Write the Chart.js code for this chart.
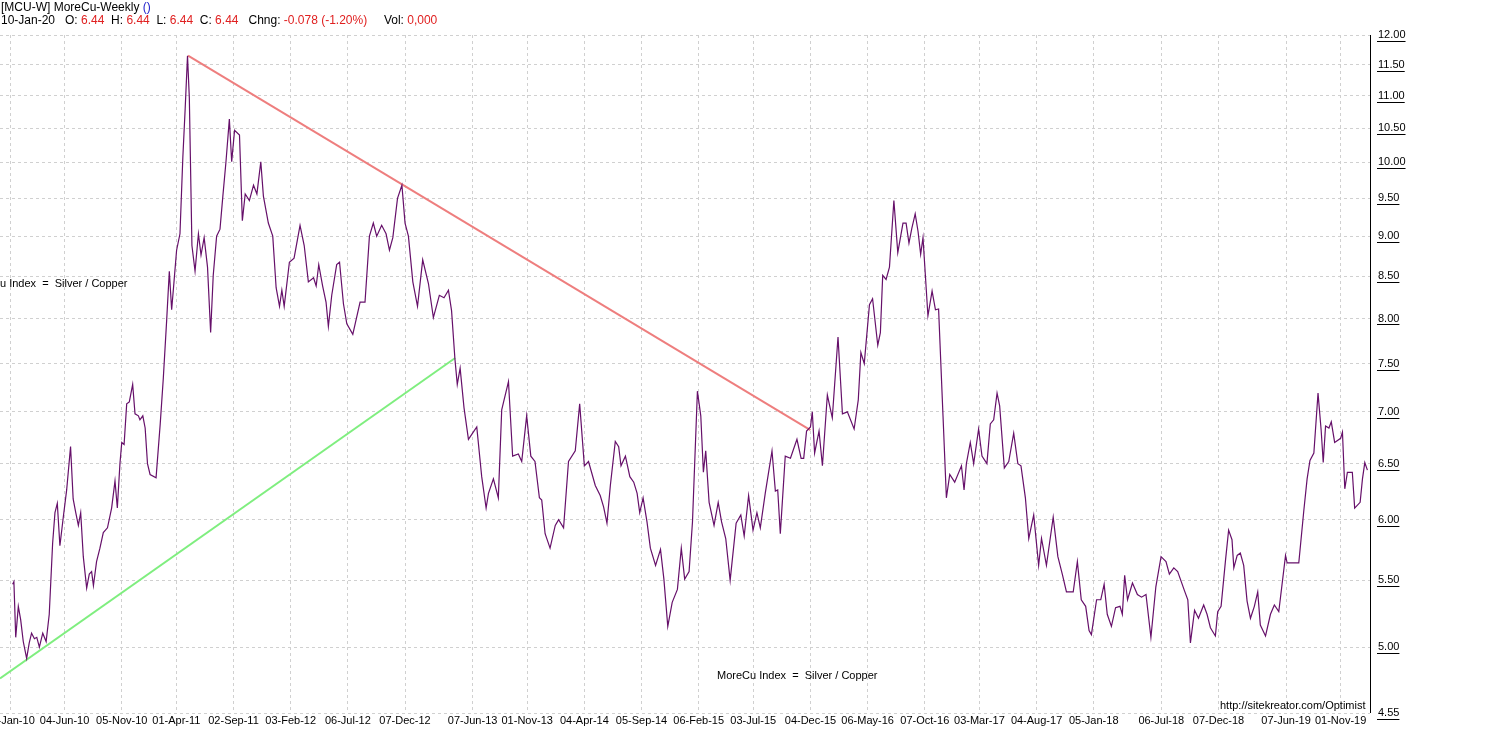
<!DOCTYPE html>
<html><head><meta charset="utf-8">
<script src="https://cdn.jsdelivr.net/npm/chart.js@4"></script>
<style>html,body{margin:0;padding:0;background:#fff}#w{width:1496px;height:732px}</style>
</head><body><div id="w"><canvas id="c"></canvas></div>
<script>
// week index (0 = 08-Jan-10) of traced points
const weeks=[1,1.5,2.2,3.2,4.1,5.1,6.4,7.4,8.3,9.4,10.3,11.3,12.6,13.9,15.1,16.4,17.3,18.2,19.2,20.5,21.8,23.3,24.3,25.3,26.3,27.2,28.2,29.5,30.5,31.4,32.1,33.3,34.6,35.9,37.5,39.1,40.4,41.3,42.3,43,43.9,44.9,45.9,47.2,48.1,49.4,50,51.1,52,52.9,53.9,56.2,57.8,59,60.3,61.3,62.2,63.1,64.1,65.4,66.5,67.4,68.3,69,70,71.2,72.5,73.5,74.7,76,77.2,78.2,79.5,80.8,81.9,83.1,84.4,85.3,86.4,88.3,89.4,90.5,92.1,93.7,95,96.5,97.5,99.4,101.1,102.4,103.7,104.6,105.5,107.5,109.3,111.6,113.2,114.8,116.8,117.8,118.8,120.3,121.6,122.5,123.8,125.7,126.8,128.3,129.6,131.9,134.7,136.6,138.3,139.8,141.1,143,144.7,146,147.3,149.1,150.8,152,153.3,155,156.8,158.8,161,162.9,165.2,167,168.7,169.9,171.2,172.1,173.2,174.7,176.4,178,179.6,181.5,183.2,184.1,186,187.9,189.2,191.8,193.4,195.6,196.9,198.8,200.4,202,203.7,204.6,205.9,207.8,209.8,211.1,213,214.9,217.5,219.2,221,222.6,225.2,227.1,228.4,229.7,231,232.9,234.2,235.1,236.8,238.5,240,241.3,242.3,243.6,245.1,246.4,248.4,250.3,251.6,253.1,254.8,256.8,258.3,259.6,261.3,262.6,264.5,265.8,266.8,267.7,269,270.9,272.5,273.8,275.4,277.1,279.4,281.2,282.5,284.2,285.9,287.4,288.7,290.6,293.2,294.5,295.4,296.4,298.3,300.3,302.8,304.4,305.4,306.5,308,308.7,309.6,311.3,312.6,314.5,316.4,318.6,320.3,322.2,324.8,326.4,327.4,328.7,330.7,331.9,333.9,334.9,335.8,337.1,338.4,340.1,341.6,343.6,344.8,345.9,347,348.3,349.4,350.4,351.3,353.2,354.8,356.1,357.3,359,360.3,361.6,363.5,366.1,367.1,368,369.5,370.8,372.7,374,375.9,377.2,378.5,379.8,380.8,382.6,384.3,386.2,387.8,389,390.7,392,393.9,395.8,396.9,398.8,401.4,403.2,404.9,406.5,409.1,410.7,412.2,413.9,415.2,416.1,418.1,419.7,421,422.2,423.8,425.4,427.1,428,428.9,430,431.9,433.8,435.4,437.1,439,440.9,442.9,444.8,446.1,447.8,449.3,451.9,453.2,454.2,455.8,457.3,459.3,460.6,461.9,463.8,464.7,466,467.7,468.9,470.2,470.9,472.2,473.4,474.7,476,477.3,478.8,480.1,481.1,483.1,485,486.5,488.2,490.8,491.4,493.3,495.9,497.8,499.1,500.2,501.7,503.3,504.5,505.3,506.2,507.5,508.4,509.7,512,512.7,513.6,514.6,516.5,517.4,519.5,520.4,521.3,522.3];
const moreCu=[5.47,5.49,5.07,5.3,5.2,5.04,4.92,5.03,5.1,5.06,5.07,5.0,5.1,5.04,5.24,5.8,6.06,6.14,5.78,6.02,6.26,6.66,6.18,6.06,5.95,6.06,5.69,5.44,5.55,5.57,5.46,5.65,5.76,5.89,5.93,6.1,6.34,6.1,6.5,6.7,6.68,7.08,7.1,7.28,6.98,6.96,6.92,6.96,6.84,6.5,6.4,6.37,6.88,7.35,7.99,8.56,8.1,8.43,8.82,9.03,10.07,10.8,11.65,10.97,8.88,8.56,9.03,8.76,8.98,8.61,7.84,8.51,9.0,9.09,9.53,10.01,10.64,10.01,10.47,10.4,9.2,9.56,9.47,9.68,9.56,10.01,9.53,9.17,9.0,8.36,8.14,8.33,8.14,8.67,8.72,9.14,8.88,8.43,8.48,8.38,8.64,8.38,8.19,7.91,8.27,8.64,8.67,8.17,7.94,7.82,8.19,8.19,9.0,9.17,9.0,9.14,9.03,8.82,8.98,9.5,9.68,9.17,9.0,8.43,8.14,8.7,8.41,8.01,8.27,8.24,8.33,8.09,7.55,7.28,7.45,7.04,6.73,6.79,6.85,6.38,6.1,6.23,6.36,6.19,7.02,7.31,6.57,6.59,6.52,6.96,6.57,6.52,6.19,6.17,5.88,5.76,5.95,6.0,5.93,6.52,6.62,7.08,6.48,6.52,6.3,6.21,6.11,5.97,6.3,6.71,6.66,6.48,6.57,6.38,6.33,6.23,6.06,6.19,5.98,5.76,5.62,5.75,5.51,5.15,5.33,5.43,5.76,5.51,5.57,5.98,7.21,6.96,6.42,6.62,6.15,5.95,6.15,5.98,5.84,5.5,5.97,6.04,5.86,6.21,5.91,6.06,5.93,6.23,6.62,6.25,6.26,5.88,6.57,6.55,6.73,6.55,6.55,6.81,6.85,7.0,6.6,6.81,6.48,7.17,6.94,7.79,6.98,7.0,6.83,7.12,7.62,7.5,8.16,8.23,7.7,7.84,8.51,8.46,8.61,9.47,8.79,9.17,9.17,8.91,9.1,9.29,9.06,8.77,8.98,8.03,8.32,8.1,8.11,6.96,6.19,6.4,6.33,6.48,6.26,6.5,6.7,6.5,6.83,6.57,6.5,6.88,6.92,7.19,7.06,6.46,6.52,6.79,6.5,6.48,6.19,5.84,6.04,5.62,5.84,5.62,6.02,5.69,5.55,5.41,5.41,5.65,5.35,5.3,5.12,5.09,5.35,5.35,5.47,5.24,5.15,5.29,5.3,5.24,5.54,5.35,5.48,5.39,5.37,5.39,5.07,5.45,5.69,5.65,5.55,5.6,5.57,5.42,5.35,5.03,5.27,5.21,5.31,5.24,5.14,5.08,5.26,5.3,5.66,5.91,5.83,5.6,5.7,5.72,5.62,5.34,5.21,5.3,5.41,5.16,5.08,5.24,5.31,5.26,5.7,5.64,5.64,5.64,6.07,6.36,6.53,6.6,7.19,6.82,6.51,6.86,6.84,6.9,6.7,6.74,6.8,6.27,6.42,6.42,6.1,6.15,6.36,6.51,6.44];
const redTrendWeeks=[68.5,308],redTrendVals=[11.65,6.82];
const greenTrendWeeks=[-3.85,171.3],greenTrendVals=[4.78,7.56];
const xTickWeeks=[0,21,43,64,86,108,130,152,178,199,221,243,265,286,308,330,352,373,395,417,443,465,491,512];
const xTickLabels=['08-Jan-10','04-Jun-10','05-Nov-10','01-Apr-11','02-Sep-11','03-Feb-12','06-Jul-12','07-Dec-12','07-Jun-13','01-Nov-13','04-Apr-14','05-Sep-14','06-Feb-15','03-Jul-15','04-Dec-15','06-May-16','07-Oct-16','03-Mar-17','04-Aug-17','05-Jan-18','06-Jul-18','07-Dec-18','07-Jun-19','01-Nov-19'];
const yTicks=[4.55,5,5.5,6,6.5,7,7.5,8,8.5,9,9.5,10,10.5,11,11.5,12];

const pts=(xs,ys)=>xs.map((x,i)=>({x,y:ys[i]}));
const F='"Liberation Sans", Arial, sans-serif';
const deco={id:'deco',afterDraw(ch){
  const c=ch.ctx,xs=ch.scales.x,ys=ch.scales.y,a=ch.chartArea;
  c.save();
  c.strokeStyle='#000';c.lineWidth=1;c.beginPath();c.moveTo(Math.round(a.right)+0.5,a.top);c.lineTo(Math.round(a.right)+0.5,a.bottom);c.stroke();
  c.fillStyle='#000';c.font='11px '+F;c.textBaseline='middle';c.textAlign='center';
  xTickWeeks.forEach((w,i)=>c.fillText(xTickLabels[i],xs.getPixelForValue(w),721));
  c.textAlign='left';
  yTicks.forEach(v=>{const y=ys.getPixelForValue(v);const t=v.toFixed(2);c.fillText(t,1378,y);
    const tw=c.measureText(t).width;c.fillRect(1377,Math.round(y)+6,tw+1,1);});
  c.font='12px '+F;
  let x=1;const seg=(t,col,yy)=>{c.fillStyle=col;c.fillText(t,x,yy);x+=c.measureText(t).width;};
  seg('[MCU-W] MoreCu-Weekly ','#000',8);seg('()','#2222cc',8);
  x=1;
  [['10-Jan-20   O: ','#000'],['6.44','#e02020'],['  H: ','#000'],['6.44','#e02020'],['  L: ','#000'],['6.44','#e02020'],
   ['  C: ','#000'],['6.44','#e02020'],['   Chng: ','#000'],['-0.078 (-1.20%)','#e02020'],['     Vol: ','#000'],['0,000','#e02020']]
   .forEach(s=>seg(s[0],s[1],21));
  c.fillStyle='#000';c.font='11px '+F;
  c.fillText('u Index  =  Silver / Copper',0,284);
  c.fillText('MoreCu Index  =  Silver / Copper',717,676);
  c.fillText('http://sitekreator.com/Optimist',1220,706);
  c.restore();
}};
new Chart(document.getElementById('c'),{
  type:'line',
  data:{datasets:[
    {data:pts(weeks,moreCu),borderColor:'#66106a',borderWidth:1.2,pointRadius:0,tension:0},
    {data:pts(redTrendWeeks,redTrendVals),borderColor:'#ee7e7e',borderWidth:2,pointRadius:0},
    {data:pts(greenTrendWeeks,greenTrendVals),borderColor:'#7fee7f',borderWidth:2,pointRadius:0}
  ]},
  options:{responsive:true,maintainAspectRatio:false,animation:false,
    layout:{padding:{left:0,top:35,right:126,bottom:19}},
    plugins:{legend:{display:false},tooltip:{enabled:false}},
    scales:{
      x:{type:'linear',min:-3.85,max:523.3,
        afterBuildTicks:s=>{s.ticks=xTickWeeks.map(v=>({value:v}));},
        ticks:{display:false},border:{display:false,dash:[3,3]},
        grid:{color:'#d0d0d0',drawTicks:false}},
      y:{type:'logarithmic',position:'right',min:4.55,max:12,
        afterBuildTicks:s=>{s.ticks=yTicks.map(v=>({value:v}));},
        ticks:{display:false},border:{display:false,dash:[3,3]},
        grid:{color:'#d0d0d0',drawTicks:false}}
    }
  },
  plugins:[deco]
});
</script></body></html>
